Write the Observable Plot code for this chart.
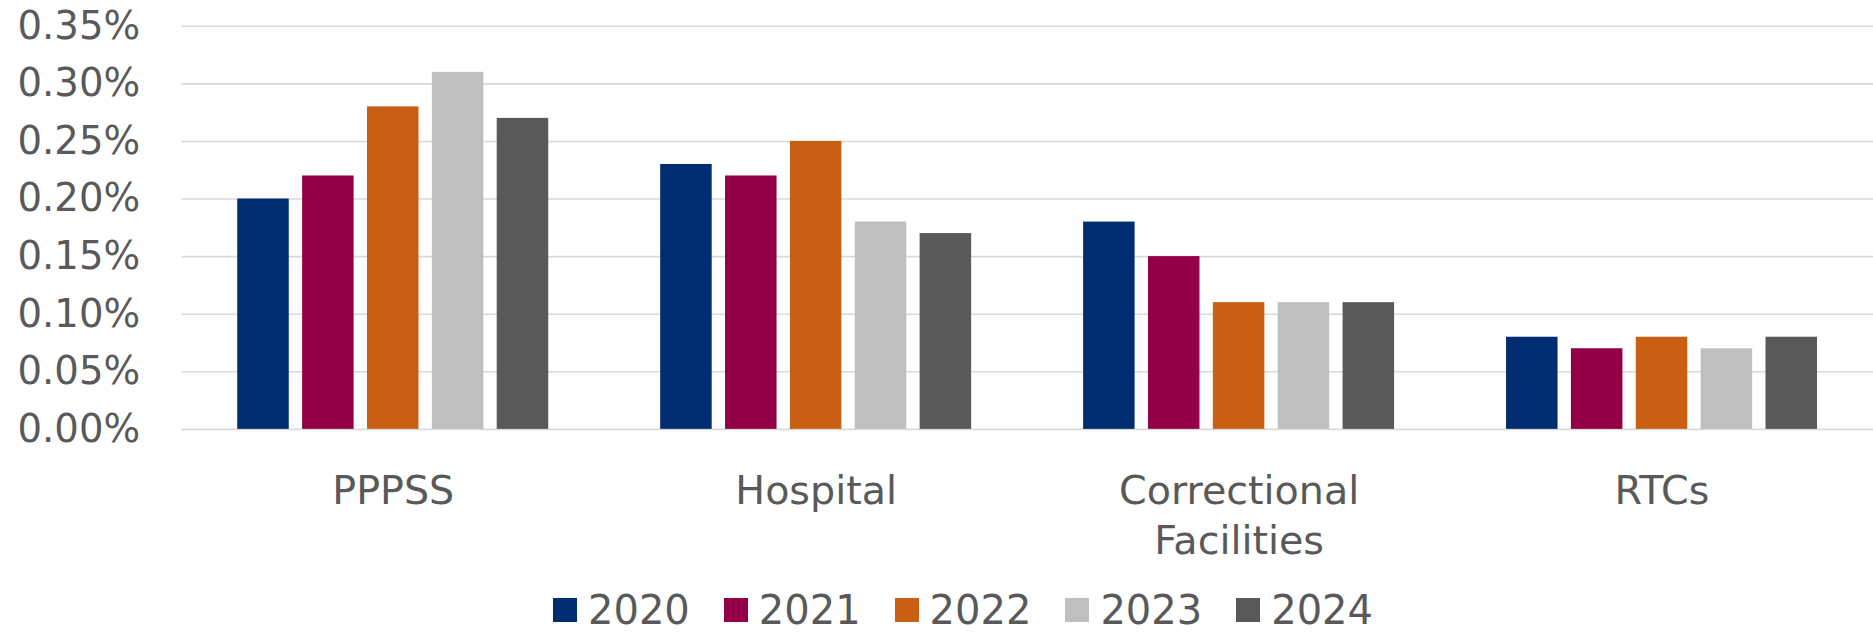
<!DOCTYPE html>
<html>
<head>
<meta charset="utf-8">
<script src="https://cdn.jsdelivr.net/npm/d3@7"></script>
<script src="https://cdn.jsdelivr.net/npm/@observablehq/plot@0.6"></script>
<style>
  html, body { margin: 0; padding: 0; background: #fff; overflow: hidden; width: 1873px; height: 634px; }
  #chart { position: absolute; left: 0; top: 0; }
  #legend { position: absolute; left: 553px; top: 590px; height: 40px; display: flex; align-items: center;
    font-family: "DejaVu Sans", sans-serif; font-size: 40px; color: #595959; line-height: 40px; }
  .item { display: flex; align-items: center; margin-right: 34px; }
  .sw { width: 24px; height: 24px; margin-right: 11px; }
</style>
</head>
<body>
<div id="chart"></div>
<div id="legend"></div>
<script>
const categories = ["PPPSS", "Hospital", "Correctional Facilities", "RTCs"];
const categoryLabels = ["PPPSS", "Hospital", "Correctional\nFacilities", "RTCs"];
const years = ["2020", "2021", "2022", "2023", "2024"];
const colors = ["#002D72", "#930047", "#C95F14", "#BFBFBF", "#595959"];
const values2020 = [0.0020, 0.0023, 0.0018, 0.0008];
const values2021 = [0.0022, 0.0022, 0.0015, 0.0007];
const values2022 = [0.0028, 0.0025, 0.0011, 0.0008];
const values2023 = [0.0031, 0.0018, 0.0011, 0.0007];
const values2024 = [0.0027, 0.0017, 0.0011, 0.0008];
const yTicks = [0, 0.0005, 0.001, 0.0015, 0.002, 0.0025, 0.003, 0.0035];

const series = [values2020, values2021, values2022, values2023, values2024];
const data = [];
categories.forEach((c, i) => {
  years.forEach((y, j) => data.push({category: c, year: y, value: series[j][i]}));
});

const fmt = d3.format(".2%");
const labelOf = new Map(categories.map((c, i) => [c, categoryLabels[i]]));

const plot = Plot.plot({
  width: 1891,
  height: 590,
  marginLeft: 183,
  marginRight: 0,
  marginTop: 26,
  marginBottom: 157,
  style: {fontFamily: "DejaVu Sans, sans-serif", fontSize: "40px", color: "#595959", background: "#fff", overflow: "visible"},
  fx: {domain: categories, padding: 0, round: false, label: null},
  x: {domain: years, paddingInner: 0.206, paddingOuter: 0.863, round: false, axis: null},
  y: {domain: [0, 0.0035], label: null},
  color: {domain: years, range: colors},
  marks: [
    Plot.gridY(yTicks, {stroke: "#D9D9D9", strokeOpacity: 1, strokeWidth: 1.6}),
    Plot.barY(data, {fx: "category", x: "year", y: "value", fill: "year"}),
    Plot.axisY({ticks: yTicks, tickFormat: fmt, tickSize: 0, tickPadding: 42, label: null, fontSize: 39}),
    Plot.axisFx({anchor: "bottom", tickSize: 0, tickPadding: 40, tickFormat: d => labelOf.get(d), label: null, lineHeight: 1.25, fontSize: 40})
  ]
});
document.getElementById("chart").appendChild(plot);

const legend = document.getElementById("legend");
years.forEach((y, i) => {
  const item = document.createElement("div");
  item.className = "item";
  const sw = document.createElement("div");
  sw.className = "sw";
  sw.style.background = colors[i];
  const t = document.createElement("span");
  t.textContent = y;
  item.appendChild(sw);
  item.appendChild(t);
  legend.appendChild(item);
});
</script>
</body>
</html>
